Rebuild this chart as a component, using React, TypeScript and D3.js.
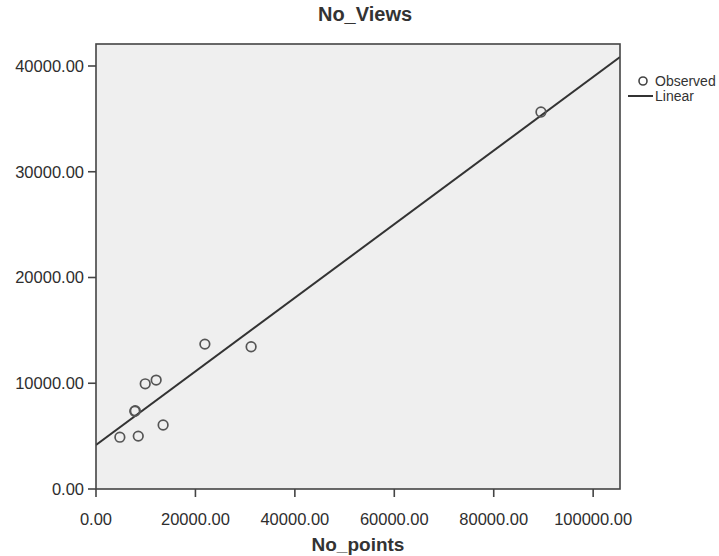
import React from "react";
import * as d3 from "d3";

const noPoints = [4800, 8500, 7800, 7900, 9900, 12100, 13500, 21900, 31200, 89500];
const noViews = [4900, 5000, 7350, 7400, 9950, 10300, 6050, 13700, 13450, 35650];
const xTicks = [0, 20000, 40000, 60000, 80000, 100000];
const yTicks = [0, 10000, 20000, 30000, 40000];
const fitIntercept = 4160;
const fitSlope = 0.348;
const legendLabels = ["Observed", "Linear"];

const W = 719;
const H = 556;
const left = 96;
const right = 620;
const top = 44;
const bottom = 489;
const font = "'Liberation Sans', Arial, sans-serif";

export default function App() {
  const x = d3.scaleLinear().domain([0, 105400]).range([left, right]);
  const y = d3.scaleLinear().domain([0, 42080]).range([bottom, top]);
  const xd = x.domain();
  const fit = xd.map((v) => [v, fitIntercept + fitSlope * v] as [number, number]);
  const line = d3
    .line<[number, number]>()
    .x((d) => x(d[0]))
    .y((d) => y(d[1]));
  const fmt = (v: number) => v.toFixed(2);

  return (
    <svg
      width={W}
      height={H}
      style={{ position: "absolute", left: 0, top: 0, background: "#fff" }}
    >
      <defs>
        <clipPath id="plotclip">
          <rect x={left} y={top} width={right - left} height={bottom - top} />
        </clipPath>
      </defs>
      <rect x={left} y={top} width={right - left} height={bottom - top} fill="#efefef" />
      <path d={line(fit) || ""} stroke="#333" strokeWidth={2} fill="none" clipPath="url(#plotclip)" />
      {noPoints.map((p, i) => (
        <circle
          key={i}
          cx={x(p)}
          cy={y(noViews[i])}
          r={4.8}
          fill="none"
          stroke="#555"
          strokeWidth={1.7}
        />
      ))}
      <rect
        x={left}
        y={top}
        width={right - left}
        height={bottom - top}
        fill="none"
        stroke="#444"
        strokeWidth={1.6}
      />
      {yTicks.map((t) => (
        <g key={"y" + t}>
          <line x1={left - 8} x2={left} y1={y(t)} y2={y(t)} stroke="#444" strokeWidth={1.6} />
          <text
            x={left - 12}
            y={y(t)}
            dy="0.36em"
            textAnchor="end"
            fontFamily={font}
            fontSize={16.5}
            fill="#2e2e2e"
          >
            {fmt(t)}
          </text>
        </g>
      ))}
      {xTicks.map((t) => (
        <g key={"x" + t}>
          <line x1={x(t)} x2={x(t)} y1={bottom} y2={bottom + 8} stroke="#444" strokeWidth={1.6} />
          <text
            x={x(t)}
            y={525}
            textAnchor="middle"
            fontFamily={font}
            fontSize={16.5}
            fill="#2e2e2e"
          >
            {fmt(t)}
          </text>
        </g>
      ))}
      <text x={365} y={21} textAnchor="middle" fontFamily={font} fontSize={20} fontWeight="bold" fill="#333">
        No_Views
      </text>
      <text x={358} y={551} textAnchor="middle" fontFamily={font} fontSize={19} fontWeight="bold" fill="#333">
        No_points
      </text>
      <circle cx={643} cy={81} r={4} fill="none" stroke="#444" strokeWidth={1.6} />
      <text x={655} y={86} fontFamily={font} fontSize={14} fill="#333">
        {legendLabels[0]}
      </text>
      <line x1={628} x2={653} y1={96} y2={96} stroke="#333" strokeWidth={2} />
      <text x={655} y={101} fontFamily={font} fontSize={14} fill="#333">
        {legendLabels[1]}
      </text>
    </svg>
  );
}
